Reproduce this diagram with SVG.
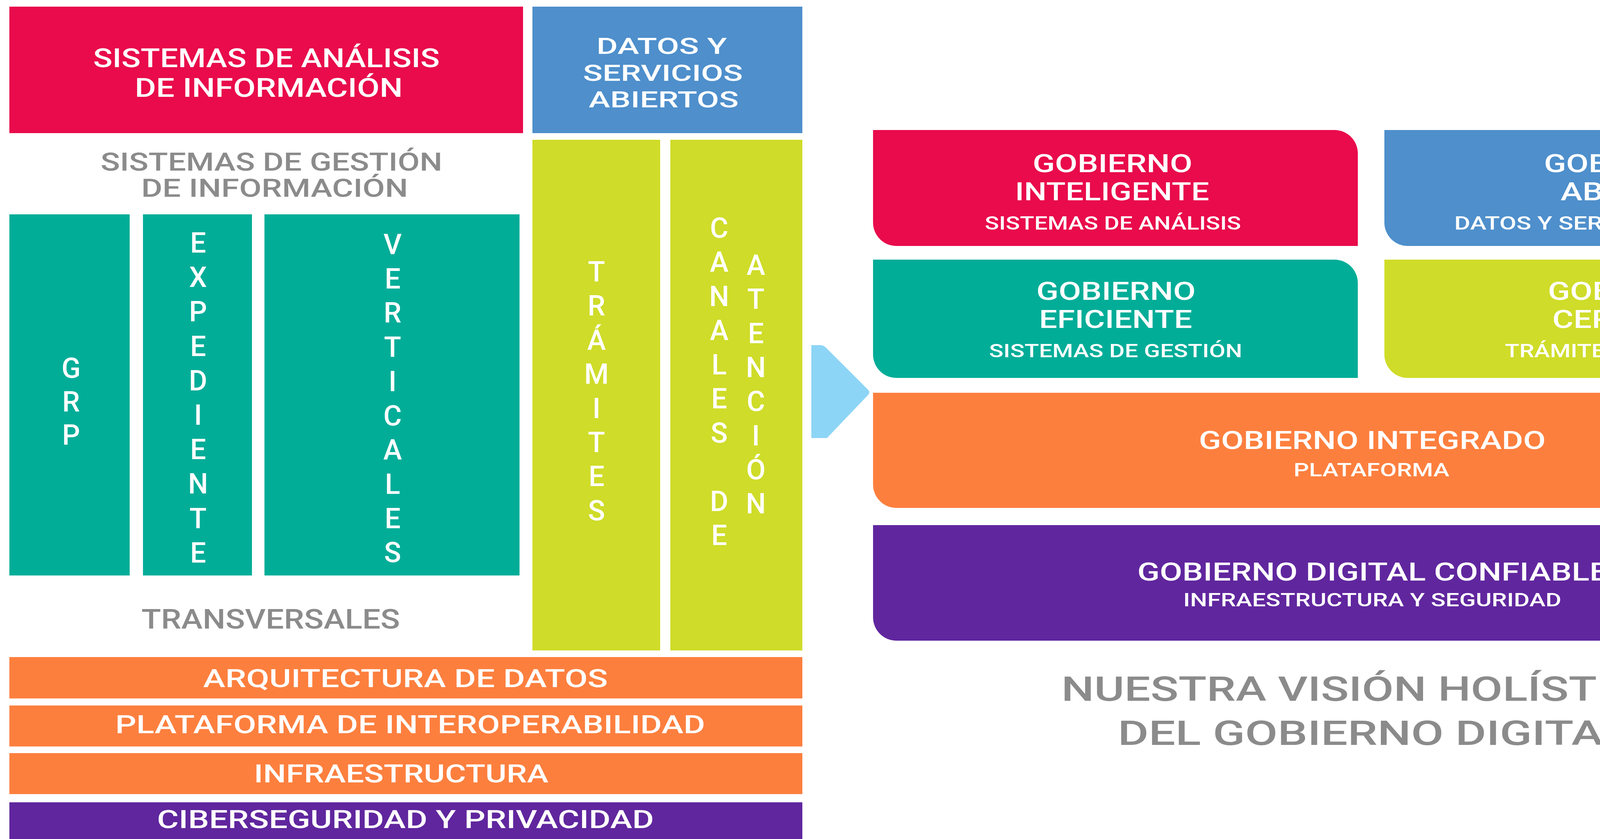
<svg xmlns="http://www.w3.org/2000/svg" width="4768" height="2149" viewBox="0 0 4768 2149">
<style>
text{font-family:Roboto,"Liberation Sans",sans-serif;font-weight:500;text-anchor:middle}
.w{fill:#ffffff}
.g{fill:#8b8b8b}
.t66{font-size:66px}
.t58{font-size:58px}
.t64{font-size:64px}
.t48{font-size:48px}
.t88{font-size:88px}
.v{font-size:72px;fill:#ffffff}
.red{fill:#E90B4B}.blue{fill:#4E8FCC}.teal{fill:#02AD98}.yel{fill:#CFDC29}.ora{fill:#FD7F3E}.pur{fill:#60269E}
</style>
<rect width="4768" height="2149" fill="#ffffff"/>

<g id="sistemas-analisis">
<rect class="red" x="24" y="17" width="1315" height="324"/>
<text class="w t66" x="682" y="172" textLength="887" lengthAdjust="spacingAndGlyphs">SISTEMAS DE ANÁLISIS</text>
<text class="w t66" x="688" y="248" textLength="686" lengthAdjust="spacingAndGlyphs">DE INFORMACIÓN</text>
</g>

<g id="datos-servicios">
<rect class="blue" x="1363" y="17" width="691" height="324"/>
<text class="w t58" x="1694" y="138" textLength="334" lengthAdjust="spacingAndGlyphs">DATOS Y</text>
<text class="w t58" x="1697" y="207" textLength="409" lengthAdjust="spacingAndGlyphs">SERVICIOS</text>
<text class="w t58" x="1699" y="275" textLength="384" lengthAdjust="spacingAndGlyphs">ABIERTOS</text>
</g>

<g id="sistemas-gestion-label">
<text class="g t64" x="695" y="437" textLength="875" lengthAdjust="spacingAndGlyphs">SISTEMAS DE GESTIÓN</text>
<text class="g t64" x="703" y="504" textLength="683" lengthAdjust="spacingAndGlyphs">DE INFORMACIÓN</text>
</g>

<g id="grp">
<rect class="teal" x="24" y="549" width="308" height="925"/>
<text class="v" x="182" y="968">G</text>
<text class="v" x="182" y="1054">R</text>
<text class="v" x="182" y="1139">P</text>
</g>

<g id="expediente">
<rect class="teal" x="366" y="549" width="279" height="925"/>
<text class="v" x="507" y="647">E</text>
<text class="v" x="507" y="735">X</text>
<text class="v" x="507" y="823">P</text>
<text class="v" x="507" y="912">E</text>
<text class="v" x="507" y="1000">D</text>
<text class="v" x="507" y="1088">I</text>
<text class="v" x="507" y="1176">E</text>
<text class="v" x="507" y="1264">N</text>
<text class="v" x="507" y="1353">T</text>
<text class="v" x="507" y="1441">E</text>
</g>

<g id="verticales">
<rect class="teal" x="677" y="549" width="653" height="925"/>
<text class="v" x="1005" y="651">V</text>
<text class="v" x="1005" y="739">E</text>
<text class="v" x="1005" y="826">R</text>
<text class="v" x="1005" y="914">T</text>
<text class="v" x="1005" y="1002">I</text>
<text class="v" x="1005" y="1090">C</text>
<text class="v" x="1005" y="1177">A</text>
<text class="v" x="1005" y="1265">L</text>
<text class="v" x="1005" y="1353">E</text>
<text class="v" x="1005" y="1440">S</text>
</g>

<g id="tramites">
<rect class="yel" x="1363" y="358" width="327" height="1308"/>
<text class="v" x="1527" y="721">T</text>
<text class="v" x="1527" y="808">R</text>
<text class="v" x="1527" y="896">Á</text>
<text class="v" x="1527" y="983">M</text>
<text class="v" x="1527" y="1071">I</text>
<text class="v" x="1527" y="1158">T</text>
<text class="v" x="1527" y="1245">E</text>
<text class="v" x="1527" y="1333">S</text>
</g>

<g id="canales-atencion">
<rect class="yel" x="1716" y="358" width="338" height="1308"/>
<text class="v" x="1841" y="609">C</text>
<text class="v" x="1841" y="696">A</text>
<text class="v" x="1841" y="784">N</text>
<text class="v" x="1841" y="871">A</text>
<text class="v" x="1841" y="959">L</text>
<text class="v" x="1841" y="1046">E</text>
<text class="v" x="1841" y="1134">S</text>
<text class="v" x="1841" y="1309">D</text>
<text class="v" x="1841" y="1396">E</text>
<text class="v" x="1935" y="704">A</text>
<text class="v" x="1935" y="791">T</text>
<text class="v" x="1935" y="879">E</text>
<text class="v" x="1935" y="966">N</text>
<text class="v" x="1935" y="1053">C</text>
<text class="v" x="1935" y="1141">I</text>
<text class="v" x="1935" y="1228">Ó</text>
<text class="v" x="1935" y="1315">N</text>
</g>

<g id="transversales-label">
<text class="g" x="693" y="1610" font-size="70" textLength="662" lengthAdjust="spacingAndGlyphs">TRANSVERSALES</text>
</g>

<g id="arquitectura">
<rect class="ora" x="24" y="1683" width="2030" height="106"/>
<text class="w t64" x="1038" y="1760" textLength="1036" lengthAdjust="spacingAndGlyphs">ARQUITECTURA DE DATOS</text>
</g>
<g id="interoperabilidad">
<rect class="ora" x="24" y="1807" width="2030" height="105"/>
<text class="w t64" x="1050" y="1878" textLength="1510" lengthAdjust="spacingAndGlyphs">PLATAFORMA DE INTEROPERABILIDAD</text>
</g>
<g id="infraestructura">
<rect class="ora" x="24" y="1929" width="2030" height="105"/>
<text class="w t64" x="1027" y="2004" textLength="754" lengthAdjust="spacingAndGlyphs">INFRAESTRUCTURA</text>
</g>
<g id="ciberseguridad">
<rect class="pur" x="24" y="2055" width="2030" height="94"/>
<text class="w t64" x="1038" y="2121" textLength="1272" lengthAdjust="spacingAndGlyphs">CIBERSEGURIDAD Y PRIVACIDAD</text>
</g>

<g id="connectors">
<path d="M2077 884 H2100 Q2108 884 2114 890 L2222 998 Q2229 1005 2222 1012 L2117 1122 H2077 Z" fill="#8DD5F6"/>
</g>

<g id="gobierno-inteligente">
<path class="red" d="M2235 333 H3416 A60 60 0 0 1 3476 393 V630 H2295 A60 60 0 0 1 2235 570 Z"/>
<text class="w t64" x="2848" y="441" textLength="409" lengthAdjust="spacingAndGlyphs">GOBIERNO</text>
<text class="w t64" x="2847" y="513" textLength="497" lengthAdjust="spacingAndGlyphs">INTELIGENTE</text>
<text class="w t48" x="2849" y="588" textLength="656" lengthAdjust="spacingAndGlyphs">SISTEMAS DE ANÁLISIS</text>
</g>

<g id="gobierno-abierto">
<path class="blue" d="M3544 333 H4710 A60 60 0 0 1 4770 393 V630 H3604 A60 60 0 0 1 3544 570 Z"/>
<text class="w t64" x="4156" y="441" textLength="407" lengthAdjust="spacingAndGlyphs">GOBIERNO</text>
<text class="w t64" x="4165" y="513" textLength="340" lengthAdjust="spacingAndGlyphs">ABIERTO</text>
<text class="w t48" x="4165" y="588" textLength="884" lengthAdjust="spacingAndGlyphs">DATOS Y SERVICIOS ABIERTOS</text>
</g>

<g id="gobierno-eficiente">
<path class="teal" d="M2235 665 H3416 A60 60 0 0 1 3476 725 V968 H2295 A60 60 0 0 1 2235 908 Z"/>
<text class="w t64" x="2857" y="768" textLength="408" lengthAdjust="spacingAndGlyphs">GOBIERNO</text>
<text class="w t64" x="2856" y="840" textLength="392" lengthAdjust="spacingAndGlyphs">EFICIENTE</text>
<text class="w t48" x="2856" y="915" textLength="648" lengthAdjust="spacingAndGlyphs">SISTEMAS DE GESTIÓN</text>
</g>

<g id="gobierno-cercano">
<path class="yel" d="M3544 665 H4710 A60 60 0 0 1 4770 725 V968 H3604 A60 60 0 0 1 3544 908 Z"/>
<text class="w t64" x="4166" y="768" textLength="407" lengthAdjust="spacingAndGlyphs">GOBIERNO</text>
<text class="w t64" x="4163" y="840" textLength="378" lengthAdjust="spacingAndGlyphs">CERCANO</text>
<text class="w t48" x="4166" y="915" textLength="627" lengthAdjust="spacingAndGlyphs">TRÁMITES Y CANALES</text>
</g>

<g id="gobierno-integrado">
<path class="ora" d="M2235 1006 H4710 A60 60 0 0 1 4770 1066 V1301 H2295 A60 60 0 0 1 2235 1241 Z"/>
<text class="w t64" x="3513" y="1150" textLength="888" lengthAdjust="spacingAndGlyphs">GOBIERNO INTEGRADO</text>
<text class="w t48" x="3511" y="1220" textLength="399" lengthAdjust="spacingAndGlyphs">PLATAFORMA</text>
</g>

<g id="gobierno-confiable">
<path class="pur" d="M2235 1345 H4710 A60 60 0 0 1 4770 1405 V1641 H2295 A60 60 0 0 1 2235 1581 Z"/>
<text class="w t64" x="3514" y="1487" textLength="1205" lengthAdjust="spacingAndGlyphs">GOBIERNO DIGITAL CONFIABLE</text>
<text class="w t48" x="3513" y="1553" textLength="968" lengthAdjust="spacingAndGlyphs">INFRAESTRUCTURA Y SEGURIDAD</text>
</g>

<g id="titulo">
<text class="g t88" x="3497" y="1795" textLength="1560" lengthAdjust="spacingAndGlyphs">NUESTRA VISIÓN HOLÍSTICA</text>
<text class="g t88" x="3515" y="1908" textLength="1307" lengthAdjust="spacingAndGlyphs">DEL GOBIERNO DIGITAL</text>
</g>
</svg>
